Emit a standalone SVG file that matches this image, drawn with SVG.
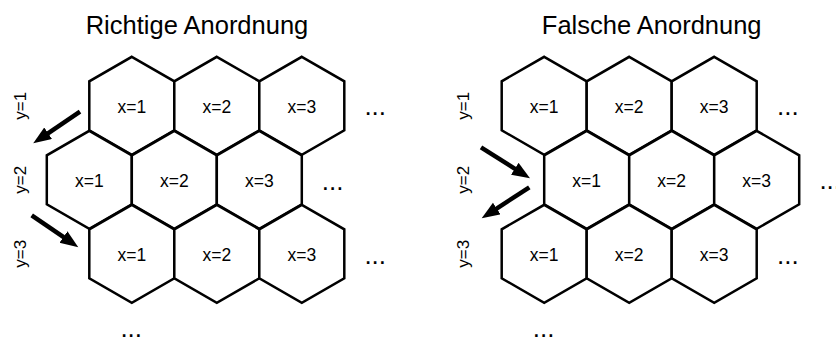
<svg xmlns="http://www.w3.org/2000/svg" xmlns:xlink="http://www.w3.org/1999/xlink" width="836" height="338" viewBox="0 0 836 338">
  <style>
    text { font-family: "Liberation Sans", Arial, sans-serif; fill: #000; }
    .title { font-size: 25.5px; text-anchor: middle; }
    .lbl { font-size: 17.5px; text-anchor: middle; }
    .ylbl { font-size: 17px; text-anchor: middle; }
    .dots { font-size: 26px; }
    .cell { fill: #fff; stroke: #000; stroke-width: 2.5; stroke-linejoin: miter; }
    .arrow { stroke: #000; stroke-width: 4.5; fill: none; marker-end: url(#head); }
  </style>
  <defs>
    <!-- pointy-top hexagon centred on the origin -->
    <polygon id="hex" class="cell" points="0,-49 42.5,-24.5 42.5,24.5 0,49 -42.5,24.5 -42.5,-24.5"/>
    <marker id="head" markerUnits="userSpaceOnUse" markerWidth="20" markerHeight="16" refX="2" refY="7" orient="auto">
      <path d="M0,0 L18,7 L0,14 z" fill="#000"/>
    </marker>
  </defs>
  <rect width="836" height="338" fill="#fff"/>

  <text class="title" x="197" y="34">Richtige Anordnung</text>
  <text class="title" x="651.7" y="34">Falsche Anordnung</text>

  <!-- left grid: odd rows shifted -->
  <g id="L-r1-x1" transform="translate(131.8,105.8)"><use xlink:href="#hex"/><text class="lbl" y="7">x=1</text></g>
  <g id="L-r1-x2" transform="translate(216.8,105.8)"><use xlink:href="#hex"/><text class="lbl" y="7">x=2</text></g>
  <g id="L-r1-x3" transform="translate(301.8,105.8)"><use xlink:href="#hex"/><text class="lbl" y="7">x=3</text></g>
  <g id="L-r2-x1" transform="translate(89.3,179.8)"><use xlink:href="#hex"/><text class="lbl" y="7">x=1</text></g>
  <g id="L-r2-x2" transform="translate(174.3,179.8)"><use xlink:href="#hex"/><text class="lbl" y="7">x=2</text></g>
  <g id="L-r2-x3" transform="translate(259.3,179.8)"><use xlink:href="#hex"/><text class="lbl" y="7">x=3</text></g>
  <g id="L-r3-x1" transform="translate(131.8,253.8)"><use xlink:href="#hex"/><text class="lbl" y="7">x=1</text></g>
  <g id="L-r3-x2" transform="translate(216.8,253.8)"><use xlink:href="#hex"/><text class="lbl" y="7">x=2</text></g>
  <g id="L-r3-x3" transform="translate(301.8,253.8)"><use xlink:href="#hex"/><text class="lbl" y="7">x=3</text></g>

  <!-- right grid: even row shifted -->
  <g id="R-r1-x1" transform="translate(544.2,105.8)"><use xlink:href="#hex"/><text class="lbl" y="7">x=1</text></g>
  <g id="R-r1-x2" transform="translate(629.2,105.8)"><use xlink:href="#hex"/><text class="lbl" y="7">x=2</text></g>
  <g id="R-r1-x3" transform="translate(714.2,105.8)"><use xlink:href="#hex"/><text class="lbl" y="7">x=3</text></g>
  <g id="R-r2-x1" transform="translate(586.7,179.8)"><use xlink:href="#hex"/><text class="lbl" y="7">x=1</text></g>
  <g id="R-r2-x2" transform="translate(671.7,179.8)"><use xlink:href="#hex"/><text class="lbl" y="7">x=2</text></g>
  <g id="R-r2-x3" transform="translate(756.7,179.8)"><use xlink:href="#hex"/><text class="lbl" y="7">x=3</text></g>
  <g id="R-r3-x1" transform="translate(544.2,253.8)"><use xlink:href="#hex"/><text class="lbl" y="7">x=1</text></g>
  <g id="R-r3-x2" transform="translate(629.2,253.8)"><use xlink:href="#hex"/><text class="lbl" y="7">x=2</text></g>
  <g id="R-r3-x3" transform="translate(714.2,253.8)"><use xlink:href="#hex"/><text class="lbl" y="7">x=3</text></g>

  <!-- row labels -->
  <g id="row-labels">
    <text class="ylbl" transform="translate(25.5,105.8) rotate(-90)">y=1</text>
    <text class="ylbl" transform="translate(25.5,179.8) rotate(-90)">y=2</text>
    <text class="ylbl" transform="translate(25.5,253.8) rotate(-90)">y=3</text>
    <text class="ylbl" transform="translate(468.5,105.8) rotate(-90)">y=1</text>
    <text class="ylbl" transform="translate(468.5,179.8) rotate(-90)">y=2</text>
    <text class="ylbl" transform="translate(468.5,253.8) rotate(-90)">y=3</text>
  </g>

  <!-- continuation marks -->
  <g id="ellipses">
    <text class="dots" x="364.4" y="115">...</text>
    <text class="dots" x="321.7" y="189.5">...</text>
    <text class="dots" x="364.4" y="263.5">...</text>
    <text class="dots" x="120.4" y="336.5">...</text>
    <text class="dots" x="777" y="115">...</text>
    <text class="dots" x="819.4" y="188.5">...</text>
    <text class="dots" x="777" y="263.5">...</text>
    <text class="dots" x="532.8" y="336.5">...</text>
  </g>

  <!-- row-to-row arrows -->
  <g id="connectors">
    <line class="arrow" x1="80" y1="111.7" x2="46.5" y2="134.3"/>
    <line class="arrow" x1="31.7" y1="215.3" x2="65.1" y2="238.2"/>
    <line class="arrow" x1="481" y1="147.3" x2="516.5" y2="169.8"/>
    <line class="arrow" x1="529.3" y1="187.3" x2="495.1" y2="209.6"/>
  </g>
</svg>
